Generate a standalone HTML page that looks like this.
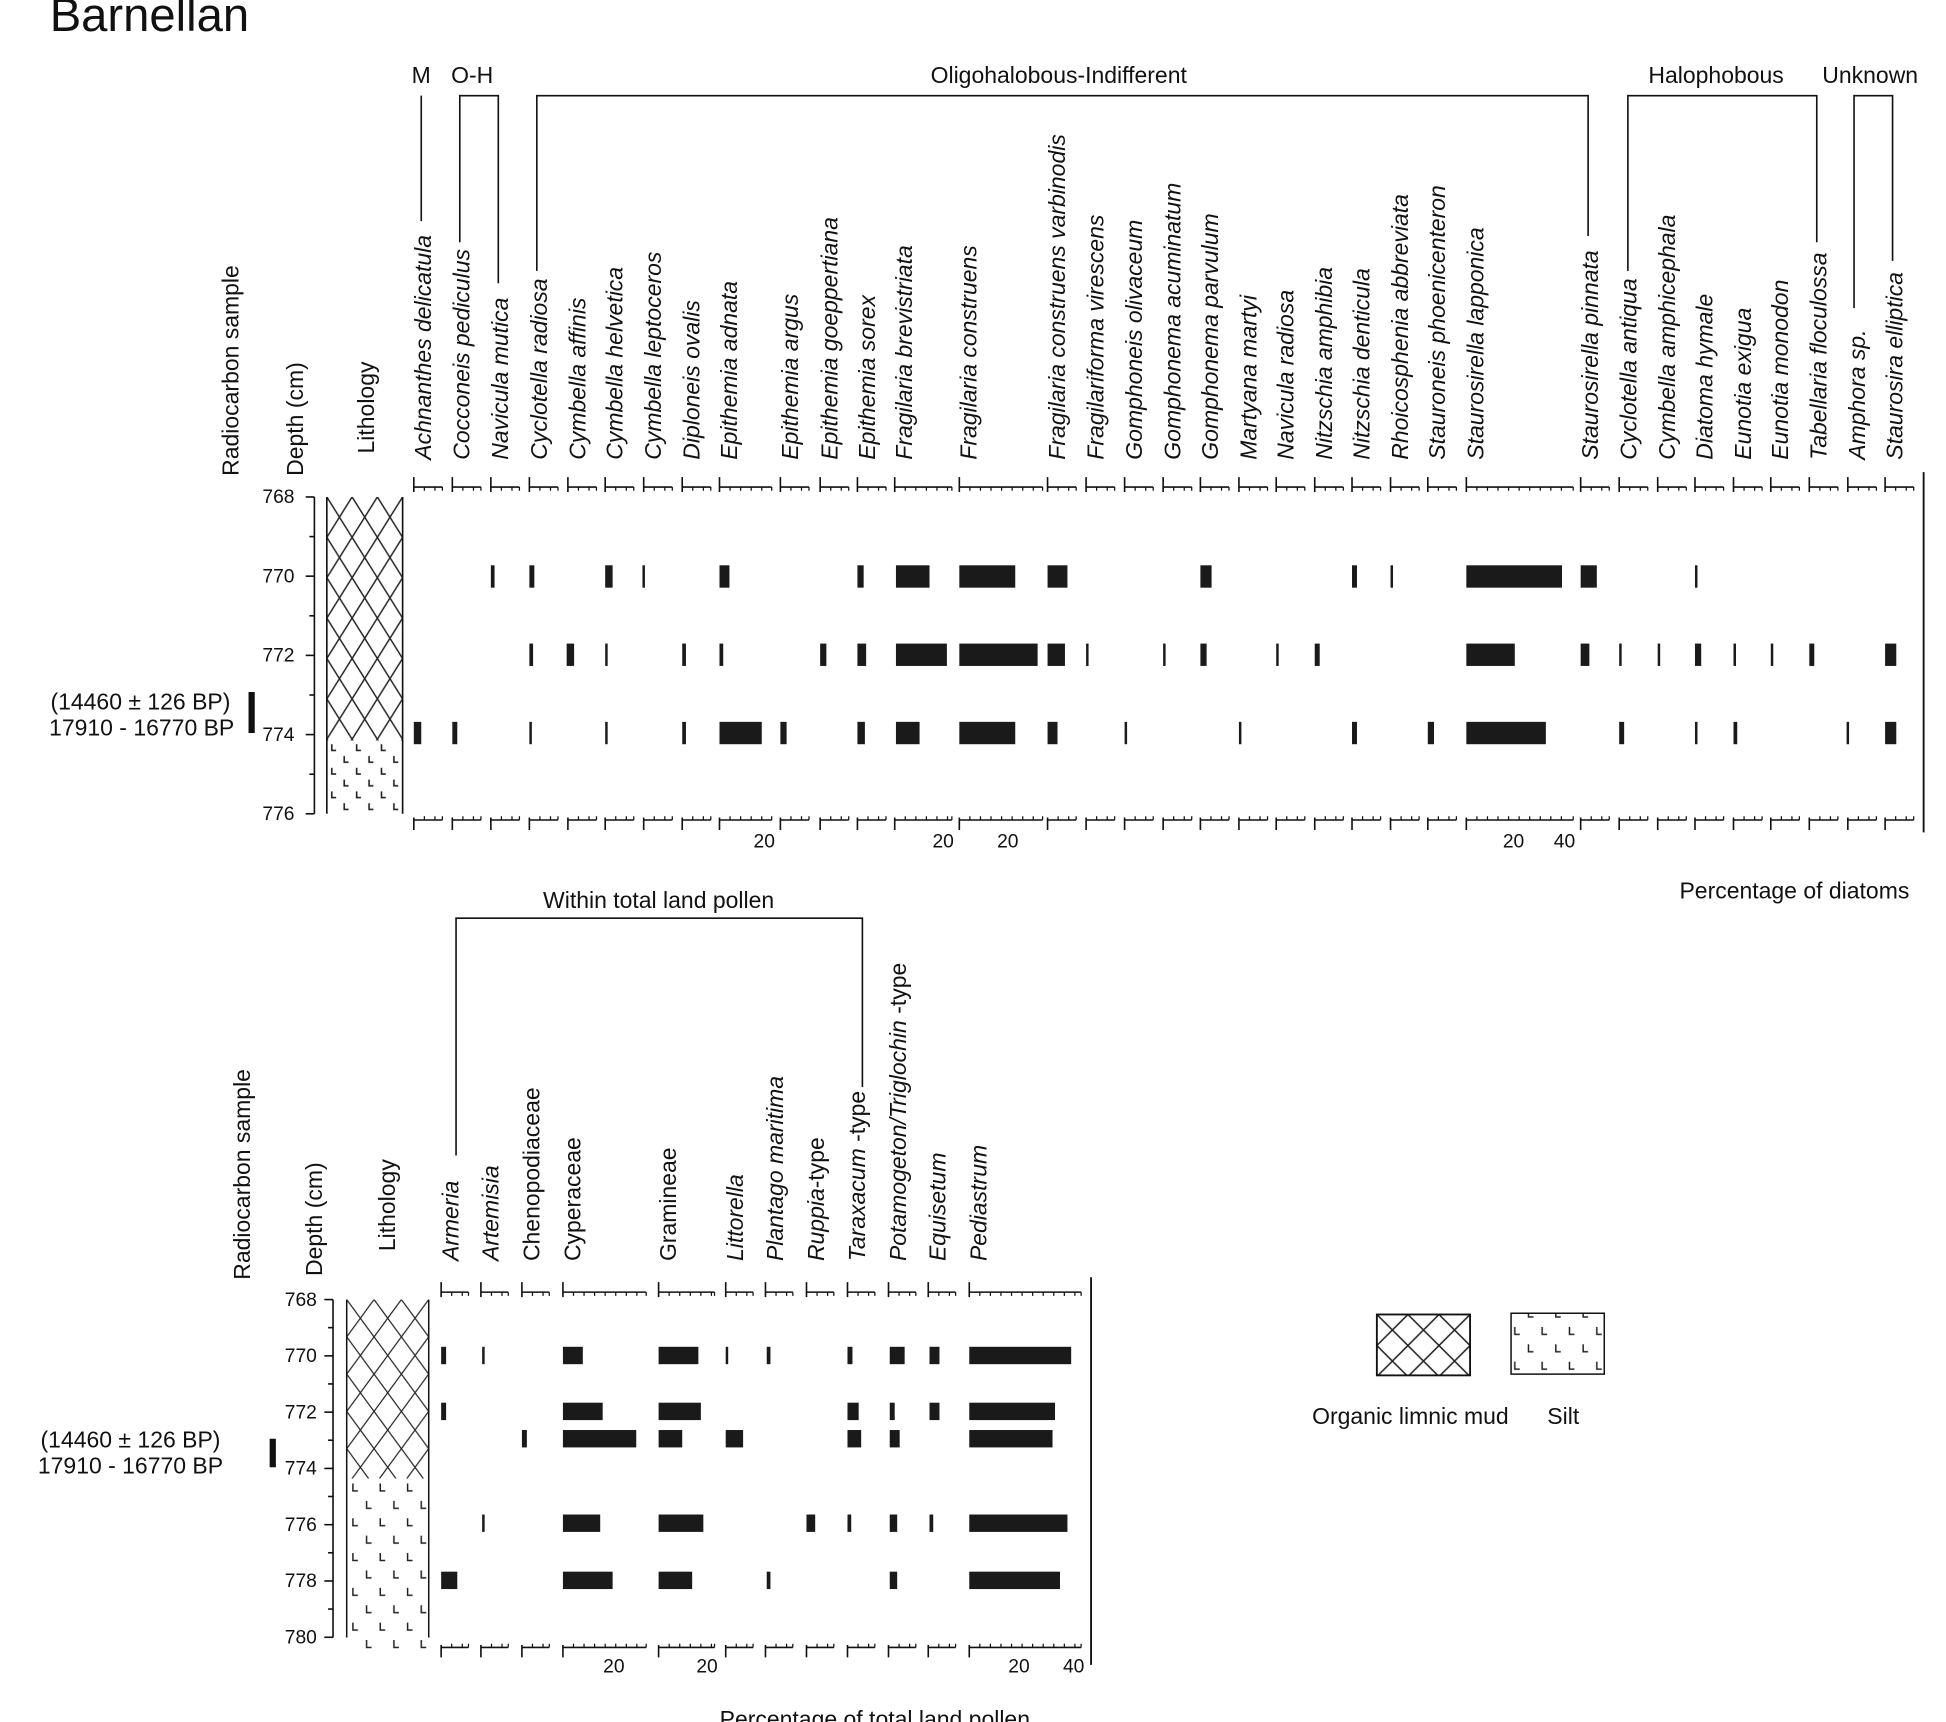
<!DOCTYPE html>
<html><head><meta charset="utf-8"><style>
html,body{margin:0;padding:0;background:#fff}
svg{display:block}
text{font-family:"Liberation Sans",Arial,sans-serif;fill:#111}
.it{font-style:italic}
</style></head><body>
<svg id="s" width="1946" height="1722" viewBox="0 0 1566 1386" preserveAspectRatio="none" xmlns="http://www.w3.org/2000/svg">
<defs>
<pattern id="ch1" patternUnits="userSpaceOnUse" x="263" y="400" width="20.33" height="32.5">
<path d="M0,0 L20.33,32.5 M20.33,0 L0,32.5" stroke="#222" stroke-width="1.2" fill="none"/>
</pattern>
<pattern id="ch2" patternUnits="userSpaceOnUse" x="279" y="1046" width="22" height="30">
<path d="M0,0 L22,30 M22,0 L0,30" stroke="#222" stroke-width="1" fill="none"/>
</pattern>
<pattern id="ch3" patternUnits="userSpaceOnUse" x="1108" y="1058" width="25" height="25">
<path d="M0,0 L25,25 M25,0 L0,25" stroke="#222" stroke-width="1.2" fill="none"/>
</pattern>
<pattern id="silt" patternUnits="userSpaceOnUse" x="264" y="598" width="20" height="19">
<path d="M3,1 v5 h3.5 M13,10.5 v5 h3.5" stroke="#222" stroke-width="1.3" fill="none"/>
</pattern>
<pattern id="silt2" patternUnits="userSpaceOnUse" x="281" y="1192" width="22" height="28">
<path d="M3,2 v6 h4 M14,16 v6 h4" stroke="#222" stroke-width="1.2" fill="none"/>
</pattern>
</defs>
<text x="40" y="25" font-size="38">Barnellan</text>
<g id="g"></g>
</svg>
<script>
const g=document.getElementById('g');let h='';
const T=(x,y,t,fs,extra)=>{h+=`<text x="${x}" y="${y}" font-size="${fs}" ${extra||''}>${t}</text>`};
const R=(x,y,t,fs,it)=>{h+=`<text transform="translate(${x},${y}) rotate(-90)" font-size="${fs}" ${it?'class="it"':''}>${t}</text>`};
const L=(d,w)=>{h+=`<path d="${d}" stroke="#111" stroke-width="${w||1.3}" fill="none"/>`};
const B=(x1,x2,y,hh)=>{h+=`<rect x="${x1}" y="${y-hh/2}" width="${Math.max(x2-x1,2)}" height="${hh}" fill="#1a1a1a"/>`};
function cols(list,yt,yb,tickStep){
 list.forEach(c=>{const l=c[0],r=c[1];
  L(`M${l},${yt-8}V${yt+4}M${l},${yt}H${r}`);
  let s=`M${r},${yt}v3`;for(let x=l+tickStep;x<r-1;x+=tickStep)s+=`M${x},${yt}v3`;L(s,1);
  L(`M${l},${yb+8}V${yb-2}M${l},${yb}H${r}`);
  s=`M${r},${yb}v-3`;for(let x=l+tickStep;x<r-1;x+=tickStep)s+=`M${x},${yb}v-3`;L(s,1);
 });
}
const FS=18.5;
/* ---------- Diatoms ---------- */
const dn=["Achnanthes delicatula","Cocconeis pediculus","Navicula mutica","Cyclotella radiosa","Cymbella affinis","Cymbella helvetica","Cymbella leptoceros","Diploneis ovalis","Epithemia adnata","Epithemia argus","Epithemia goeppertiana","Epithemia sorex","Fragilaria brevistriata","Fragilaria construens","Fragilaria construens varbinodis","Fragilariforma virescens","Gomphoneis olivaceum","Gomphonema acuminatum","Gomphonema parvulum","Martyana martyi","Navicula radiosa","Nitzschia amphibia","Nitzschia denticula","Rhoicosphenia abbreviata","Stauroneis phoenicenteron","Staurosirella lapponica","Staurosirella pinnata","Cyclotella antiqua","Cymbella amphicephala","Diatoma hymale","Eunotia exigua","Eunotia monodon","Tabellaria floculossa","Amphora sp.","Staurosira elliptica"];
const dx=[333,364,395,426,457,487,518,549,579,628,660,690,720,772,843,874,905,936,966,997,1027,1058,1088,1119,1149,1180,1272,1303,1334,1364,1395,1425,1456,1487,1517];
const dw={8:42,12:46,13:67,25:86};
const dc=dx.map((x,i)=>[x,x+(dw[i]||23)]);
cols(dc,392,660,8.5);
dn.forEach((n,i)=>R(dx[i]+14,370,n,FS,true));
R(192,383,"Radiocarbon sample",FS);R(244,383,"Depth (cm)",FS);R(301,365,"Lithology",FS);
T(339,67,"M",FS,'text-anchor="middle"');L("M339,77V178");
T(380,67,"O-H",FS,'text-anchor="middle"');L("M370,195V77H401V228");
T(852,67,"Oligohalobous-Indifferent",FS,'text-anchor="middle"');L("M432,218V77H1278V190");
T(1381,67,"Halophobous",FS,'text-anchor="middle"');L("M1310,218V77H1462V195");
T(1505,67,"Unknown",FS,'text-anchor="middle"');L("M1492,248V77H1523V210");
L("M253,400V655");["768","770","772","774","776"].forEach((d,i)=>{const y=400+i*63.75;L(`M246,${y}H253`);T(237,y+5,d,15.5,'text-anchor="end"');if(i<4)L(`M249,${y+31.9}H253`);});
h+=`<rect x="263" y="400" width="61" height="196" fill="url(#ch1)"/><rect x="263" y="596" width="61" height="59" fill="url(#silt)"/>`;
L("M263,400V655M324,400V655",1.3);
h+=`<rect x="200" y="557" width="5" height="33" fill="#111"/>`;
T(113,571,"(14460 ± 126 BP)",FS,'text-anchor="middle"');T(114,592,"17910 - 16770 BP",FS,'text-anchor="middle"');
L("M1548,380V670",1.5);
const bars1={464:[[395,398],[426,430],[487,493],[517,519],[579,587],[690,695],[721,748],[772,817],[843,859],[966,975],[1088,1092],[1119,1121],[1180,1257],[1272,1285],[1364,1366]],
527:[[426,429],[456,462],[487,489],[549,552],[579,582],[660,665],[690,697],[721,762],[772,835],[843,857],[874,876],[936,938],[966,971],[1027,1029],[1058,1062],[1180,1219],[1272,1279],[1303,1305],[1334,1336],[1364,1369],[1395,1397],[1425,1427],[1456,1460],[1517,1526]],
590:[[333,339],[364,368],[426,428],[487,489],[549,552],[579,613],[628,633],[690,696],[721,740],[772,817],[843,851],[905,907],[997,999],[1088,1092],[1149,1154],[1180,1244],[1303,1307],[1364,1366],[1395,1398],[1486,1488],[1517,1526]]};
for(const y in bars1)bars1[y].forEach(b=>B(b[0],b[1],+y,18));
[[615,"20"],[759,"20"],[811,"20"],[1218,"20"],[1259,"40"]].forEach(a=>T(a[0],682,a[1],15.5,'text-anchor="middle"'));
T(1444,723,"Percentage of diatoms",FS,'text-anchor="middle"');
/* ---------- Pollen ---------- */
const pn=[["Armeria",1],["Artemisia",1],["Chenopodiaceae",0],["Cyperaceae",0],["Gramineae",0],["Littorella",1],["Plantago maritima",1],["<tspan font-style='italic'>Ruppia</tspan>-type",0],["<tspan font-style='italic'>Taraxacum</tspan> -type",0],["<tspan font-style='italic'>Potamogeton/Triglochin</tspan> -type",0],["Equisetum",1],["Pediastrum",1]];
const px=[355,387,420,453,530,584,616,649,682,715,747,780];
const pw={3:67,4:45,11:90};
const pc=px.map((x,i)=>[x,x+(pw[i]||22)]);
cols(pc,1040,1326,8.5);
pn.forEach((n,i)=>R(px[i]+14,1015,n[0],FS,n[1]));
R(201,1030,"Radiocarbon sample",FS);R(259,1027,"Depth (cm)",FS);R(318,1007,"Lithology",FS);
T(530,731,"Within total land pollen",FS,'text-anchor="middle"');L("M367,930V739H694V875");
L("M268,1046V1318");["768","770","772","774","776","778","780"].forEach((d,i)=>{const y=1046+i*45.3;L(`M261,${y}H268`);T(255,y+5,d,15.5,'text-anchor="end"');if(i<6)L(`M264,${y+22.6}H268`);});
h+=`<rect x="279" y="1046" width="66" height="144" fill="url(#ch2)"/><rect x="279" y="1190" width="66" height="140" fill="url(#silt2)"/>`;
L("M279,1046V1318M345,1046V1318",1.2);
h+=`<rect x="217" y="1158" width="5" height="23" fill="#111"/>`;
T(105,1165,"(14460 ± 126 BP)",FS,'text-anchor="middle"');T(105,1186,"17910 - 16770 BP",FS,'text-anchor="middle"');
L("M878,1028V1340",1.5);
const bars2={1091:[[355,359],[388,390],[453,469],[530,562],[584,586],[617,620],[682,686],[716,728],[748,756],[780,862]],
1136:[[355,359],[453,485],[530,564],[682,691],[716,720],[748,756],[780,849]],
1158:[[420,424],[453,512],[530,549],[584,598],[682,693],[716,724],[780,847]],
1226:[[388,390],[453,483],[530,566],[649,656],[682,685],[716,722],[748,751],[780,859]],
1272:[[355,368],[453,493],[530,557],[617,620],[716,722],[780,853]]};
for(const y in bars2)bars2[y].forEach(b=>B(b[0],b[1],+y,14));
[[494,"20"],[569,"20"],[820,"20"],[864,"40"]].forEach(a=>T(a[0],1346,a[1],15.5,'text-anchor="middle"'));
T(704,1390,"Percentage of total land pollen",FS,'text-anchor="middle"');
h+=`<rect x="1108" y="1058" width="75" height="49" fill="url(#ch3)" stroke="#111" stroke-width="1.5"/>`;
h+=`<rect x="1216" y="1057" width="75" height="49" fill="url(#silt2)" stroke="#111" stroke-width="1.2"/>`;
T(1135,1146,"Organic limnic mud",FS,'text-anchor="middle"');T(1258,1146,"Silt",FS,'text-anchor="middle"');
g.innerHTML=h;
</script>
</body></html>
